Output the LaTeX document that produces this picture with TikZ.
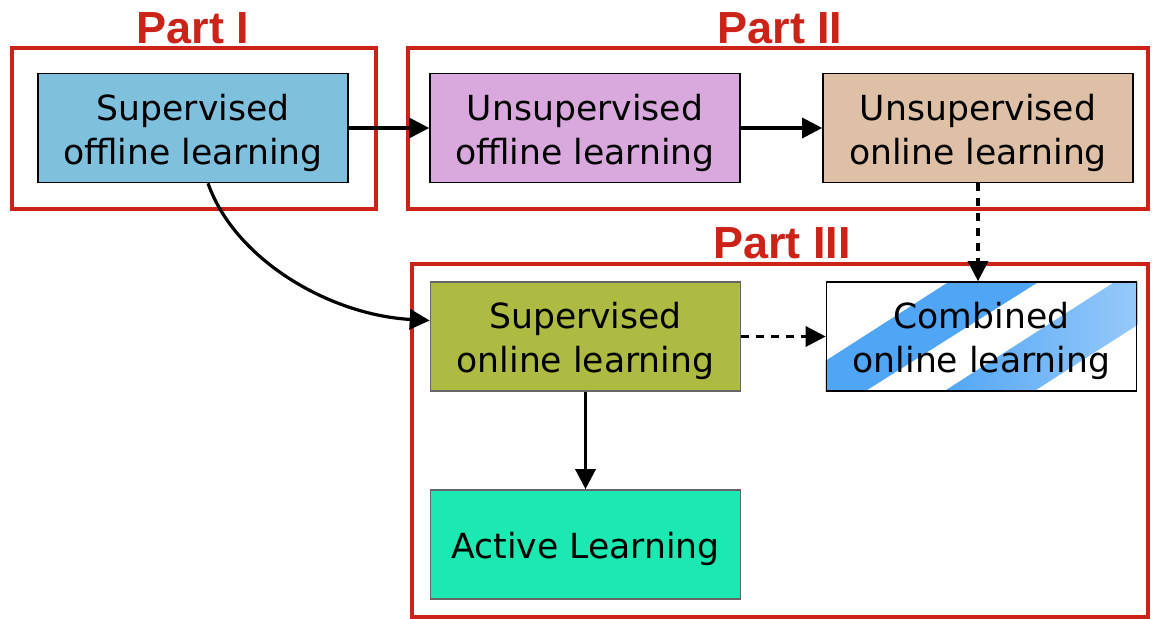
\documentclass[tikz,border=0pt]{standalone}
\usepackage{fontspec}
\setmainfont{DejaVu Sans}
\newfontfamily\partfont{Liberation Sans}
\usetikzlibrary{arrows.meta,backgrounds}
\definecolor{partred}{RGB}{204,35,25}
\definecolor{soffblue}{RGB}{127,192,221}
\definecolor{uoffplum}{RGB}{217,168,220}
\definecolor{uontan}{RGB}{222,192,166}
\definecolor{songreen}{RGB}{173,187,66}
\definecolor{alteal}{RGB}{28,233,177}
\definecolor{stripeblue}{RGB}{80,165,245}
\newcommand{\topstrut}{\rule{0pt}{18pt}}
\begin{document}
\begin{tikzpicture}[x=0.5pt,y=-0.5pt,
  stage/.style={draw=black,line width=0.8pt,minimum width=155pt,minimum height=54.5pt,
    align=center,font=\fontsize{17.3}{22}\selectfont},
  frame/.style={draw=partred,line width=2pt},
  partlabel/.style={text=partred,font=\partfont\bfseries\fontsize{22.5}{24}\selectfont},
  flow/.style={line width=1.6pt,-{Triangle[length=10pt,width=10pt]}},
  maybe/.style={flow,dash pattern=on 4pt off 3.5pt}]
\useasboundingbox (0,0) rectangle (1152,619);
% the three parts
\draw[frame] (11.5,48) rectangle (376,209);
\draw[frame] (408,48) rectangle (1148,209);
\draw[frame] (412,264) rectangle (1148,617);
\node[partlabel] (partI) at (193,28) {Part I};
\node[partlabel] (partII) at (780,28) {Part II};
\node[partlabel] (partIII) at (782,243) {Part III};
% learning stages
\node[stage,fill=soffblue] (soff) at (193,128) {\topstrut Supervised\\offline learning};
\node[stage,fill=uoffplum] (uoff) at (585,128) {\topstrut Unsupervised\\offline learning};
\node[stage,fill=uontan] (uon) at (978,128) {\topstrut Unsupervised\\online learning};
\node[stage,fill=songreen,draw=black!60] (son) at (585.5,336.5)
  {\topstrut Supervised\\online learning};
\node[stage] (comb) at (981.5,336.5) {\topstrut Combined\\online learning};
\node[stage,fill=alteal,draw=black!60] (al) at (585.5,544.5) {\topstrut Active Learning};
% stripes behind the combined stage
\begin{scope}[on background layer]
\clip (comb.south west) rectangle (comb.north east);
\begin{scope}[shift={(comb.center)}]
\fill[stripeblue] (-24.4,-60) -- (65.6,-60) -- (-124.6,60) -- (-211.6,60) -- cycle;
\shade[left color=stripeblue,right color=stripeblue!45] (141.6,-60) -- (231.6,-60)
  -- (44.4,60) -- (-45.6,60) -- cycle;
\end{scope}
\end{scope}
% connections
\draw[flow] (soff) -- (uoff);
\draw[flow] (uoff) -- (uon);
\draw[flow] ([xshift=7.5pt]soff.south) .. controls (235,260) and (330,315)
  .. ([yshift=8pt]son.west);
\draw[flow] (son) -- (al);
\draw[maybe] (son) -- (comb);
\draw[maybe] (uon.south) -- (uon.south |- comb.north);
\end{tikzpicture}
\end{document}
